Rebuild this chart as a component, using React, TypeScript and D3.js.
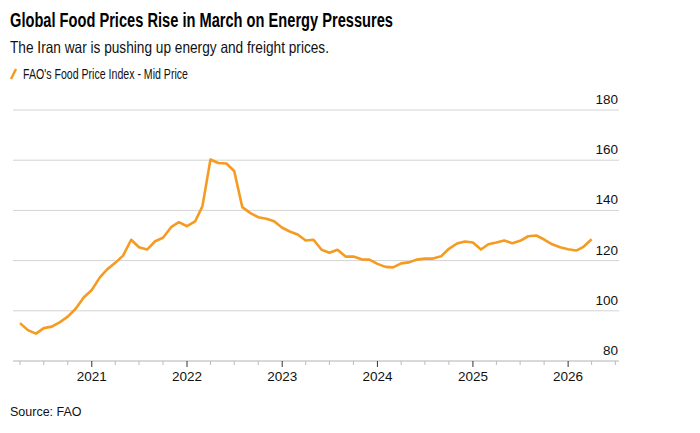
import React from 'react';
import * as d3 from 'd3';

// FAO Food Price Index, monthly, Mar 2020 .. Mar 2026 (plotted at month end)
const startMonth = '2020-03';
const foodIndex: number[] = [
  // 2020 Mar-Dec
  95.1, 92.3, 90.9, 93.1, 93.7, 95.5, 97.7, 100.9, 105.3, 108.3,
  // 2021
  113.3, 116.5, 119.1, 122.0, 128.3, 125.3, 124.4, 127.7, 129.1, 133.3, 135.3, 133.7,
  // 2022
  135.6, 141.6, 160.3, 158.9, 158.7, 155.7, 141.3, 138.9, 137.3, 136.7, 135.7, 133.1,
  // 2023
  131.5, 130.4, 128.0, 128.3, 124.3, 123.1, 124.3, 121.6, 121.6, 120.5, 120.4, 118.7,
  // 2024
  117.5, 117.3, 118.9, 119.3, 120.4, 120.8, 120.8, 121.7, 124.7, 126.8, 127.6, 127.2,
  // 2025
  124.4, 126.5, 127.2, 128.0, 126.9, 127.9, 129.7, 130.0, 128.4, 126.5, 125.3, 124.5,
  // 2026
  124.0, 125.5, 128.5,
];
const yTicks = [80, 100, 120, 140, 160, 180];
const yearTicks = ['2021', '2022', '2023', '2024', '2025', '2026'];

const title = 'Global Food Prices Rise in March on Energy Pressures';
const subtitle = 'The Iran war is pushing up energy and freight prices.';
const legendLabel = "FAO's Food Price Index - Mid Price";
const source = 'Source: FAO';

const W = 700;
const H = 433;
const plot = { left: 13, right: 619, top: 110, bottom: 361 };
const font = "'Liberation Sans', Arial, Helvetica, sans-serif";
const orange = '#f59b22';

type Point = { date: Date; value: number };

const start = d3.timeParse('%Y-%m')(startMonth) as Date;
const data: Point[] = foodIndex.map((v, i) => ({
  // month-end: first day of the following month
  date: d3.timeMonth.offset(start, i + 1),
  value: v,
}));

const App = () => {
  const x = d3
    .scaleTime()
    .domain([new Date(2020, 2, 5), new Date(2026, 6, 15)])
    .range([plot.left, plot.right]);

  const y = d3.scaleLinear().domain([80, 180]).range([plot.bottom, plot.top]);

  const line = d3
    .line<Point>()
    .x((d) => x(d.date))
    .y((d) => y(d.value));

  const quarterTicks = d3.timeMonth
    .every(3)!
    .range(new Date(2020, 3, 1), new Date(2026, 6, 2))
    .filter((d) => d.getMonth() !== 0);

  return (
    <svg
      width={W}
      height={H}
      style={{ position: 'absolute', left: 0, top: 0, background: '#fff' }}
      fontFamily={font}
    >
      <text x={10} y={27} fontSize={19.5} fontWeight="bold" fill="#000" textLength={383} lengthAdjust="spacingAndGlyphs">
        {title}
      </text>
      <text x={10} y={53} fontSize={16.5} fill="#111" textLength={319} lengthAdjust="spacingAndGlyphs">
        {subtitle}
      </text>
      <line x1={11} y1={79} x2={16} y2={69} stroke={orange} strokeWidth={2.5} />
      <text x={23} y={78.5} fontSize={14} fill="#111" textLength={165} lengthAdjust="spacingAndGlyphs">
        {legendLabel}
      </text>

      {/* grid + y labels */}
      {yTicks.map((t) => (
        <g key={t}>
          <line x1={plot.left} x2={plot.right} y1={y(t)} y2={y(t)} stroke="#d3d3d3" strokeWidth={1} />
          <text x={618} y={y(t) - 6} fontSize={13.5} textAnchor="end" fill="#111">
            {t}
          </text>
        </g>
      ))}

      {/* x axis */}
      <line x1={plot.left} x2={plot.right} y1={plot.bottom} y2={plot.bottom} stroke="#c8c8c8" strokeWidth={1} />
      {quarterTicks.map((d) => (
        <line key={d.toISOString()} x1={x(d)} x2={x(d)} y1={plot.bottom} y2={plot.bottom + 4} stroke="#bbb" strokeWidth={1} />
      ))}
      {yearTicks.map((yr) => {
        const d = d3.timeParse('%Y')(yr) as Date;
        return (
          <g key={yr}>
            <line x1={x(d)} x2={x(d)} y1={plot.bottom} y2={plot.bottom + 6} stroke="#333" strokeWidth={1} />
            <text x={x(d)} y={381} fontSize={13.5} textAnchor="middle" fill="#111">
              {yr}
            </text>
          </g>
        );
      })}

      <path d={line(data) ?? ''} fill="none" stroke={orange} strokeWidth={2.6} strokeLinejoin="round" />

      <text x={10} y={416} fontSize={12.5} fill="#111">
        {source}
      </text>
    </svg>
  );
};

export default App;
